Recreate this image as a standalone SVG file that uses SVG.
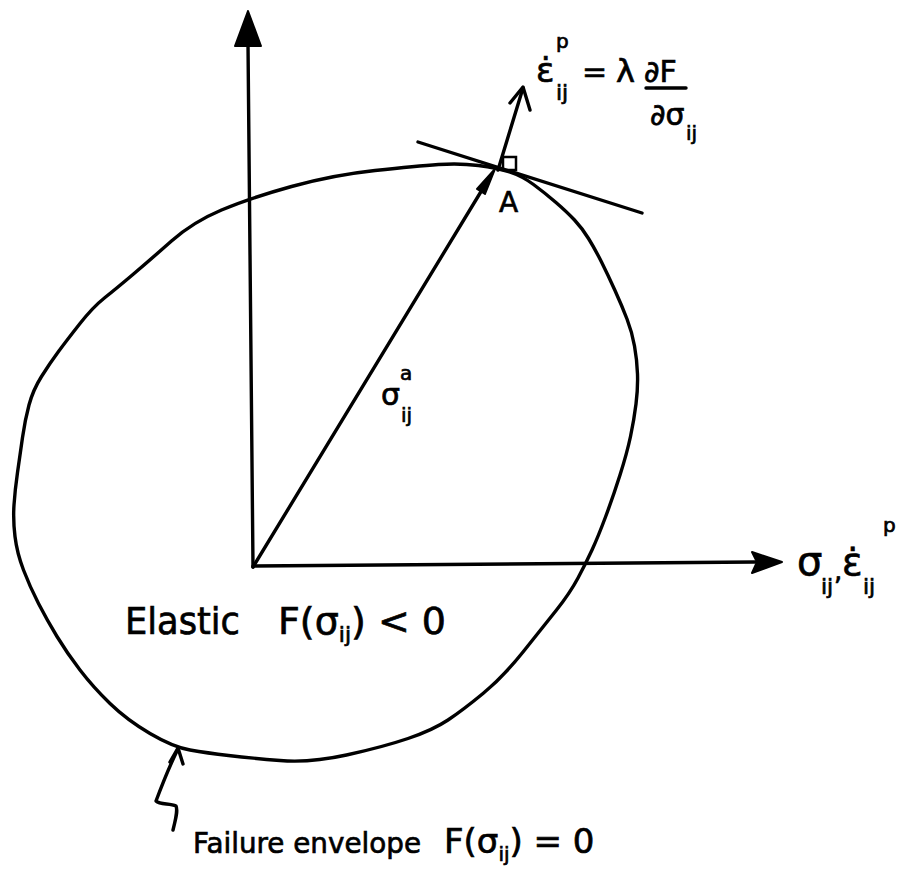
<svg xmlns="http://www.w3.org/2000/svg" width="913" height="869" viewBox="0 0 913 869">
<style>
.ln{fill:none;stroke:#000;stroke-width:3.4;stroke-linecap:round;stroke-linejoin:round}
.hd{fill:#000;stroke:#000;stroke-width:2;stroke-linejoin:round}
.t{font-family:"DejaVu Sans","Liberation Sans",sans-serif;fill:#000;stroke:#000;stroke-width:0.7}
</style>
<rect width="913" height="869" fill="#fff"/>
<g id="envelope">
<path class="ln" d="M438.5,164.5 Q460,163 478.5,165.5 Q497,168 509.5,172 Q522,176 533.5,184.5 Q545,193 556,202.5 Q567,212 574.5,220 Q582,228 588.5,238.5 Q595,249 601.5,262 Q608,275 615,290.5 Q622,306 627,319 Q632,332 634.5,346 Q637,360 637.5,374 Q638,388 636,404 Q634,420 630.5,436.5 Q627,453 620,475 Q613,497 605.5,517 Q598,537 592,550 Q586,563 578,578 Q570,593 556.5,610 Q543,627 523,652 Q503,677 483,693.5 Q463,710 448,720 Q433,730 408,738.5 Q383,747 346.5,755 Q310,763 280,760.5 Q250,758 228.5,755.5 Q207,753 190,750 Q173,747 150,733.5 Q127,720 110,703.5 Q93,687 80,670 Q67,653 57,636.5 Q47,620 38.5,603.5 Q30,587 23.5,570 Q17,553 15,536.5 Q13,520 14,505 Q15,490 17.5,472.5 Q20,455 22.5,437.5 Q25,420 29,405 Q33,390 41.5,376.5 Q50,363 58.5,351.5 Q67,340 80,323.5 Q93,307 105,297.5 Q117,288 133.5,274 Q150,260 171.5,241 Q193,222 221.5,210 Q250,198 291.5,186.5 Q333,175 375,170.5 Q417,166 438.5,164.5 Z"/>
</g>
<g id="connectors">
<line class="ln" x1="253" y1="567" x2="248" y2="44"/>
<polygon class="hd" points="248,11 235,46 261,46"/>
<line class="ln" x1="253" y1="566" x2="755" y2="562"/>
<polygon class="hd" points="782,562 752,552 757,562 752,573"/>
<line class="ln" x1="253" y1="567" x2="485" y2="185"/>
<polygon class="hd" points="495,169 477,189 485,194"/>
<line class="ln" x1="418" y1="142" x2="642" y2="213"/>
<line class="ln" x1="498" y1="170" x2="523" y2="88"/>
<polyline class="ln" points="510,103 523,87 530,110"/>
<rect x="503" y="157" width="13" height="13" fill="none" stroke="#000" stroke-width="2.5"/>
<path class="ln" d="M173,830 C176,818 178,810 176,806 C170,803 160,805 156,801 C162,785 170,765 178,749"/>
<polyline class="ln" points="170,762 178,748 183,764"/>
</g>
<g id="label-A"><text class="t" x="499" y="212" font-size="28">A</text></g>
<g id="label-top">
<text class="t" x="536" y="82" font-size="34">ε̇</text>
<text class="t" x="556" y="48" font-size="20">p</text>
<text class="t" x="556" y="100" font-size="22">ij</text>
<text class="t" x="582" y="82" font-size="30">=</text>
<text class="t" x="616" y="82" font-size="32">λ</text>
<text class="t" x="644" y="82" font-size="30">∂F</text>
<line class="ln" x1="646" y1="88" x2="686" y2="88"/>
<text class="t" x="650" y="125" font-size="30">∂σ</text>
<text class="t" x="686" y="140" font-size="20">ij</text>
</g>
<g id="label-sigma-a">
<text class="t" x="381" y="405" font-size="30">σ</text>
<text class="t" x="400" y="380" font-size="20">a</text>
<text class="t" x="401" y="422" font-size="20">ij</text>
</g>
<g id="label-axis">
<text class="t" x="797" y="575" font-size="40">σ</text>
<text class="t" x="821" y="594" font-size="22">ij</text>
<text class="t" x="834" y="580" font-size="26">,</text>
<text class="t" x="842" y="575" font-size="38">ε̇</text>
<text class="t" x="883" y="532" font-size="20">p</text>
<text class="t" x="863" y="594" font-size="22">ij</text>
</g>
<g id="label-elastic">
<text class="t" x="125" y="634" font-size="38" textLength="115" lengthAdjust="spacingAndGlyphs">Elastic</text>
<text class="t" x="278" y="634" font-size="38">F(σ<tspan font-size="22" dy="8">ij</tspan><tspan dy="-8">) &lt; 0</tspan></text>
</g>
<g id="label-failure">
<text class="t" x="193" y="853" font-size="29" textLength="228" lengthAdjust="spacingAndGlyphs">Failure envelope</text>
<text class="t" x="444" y="853" font-size="34">F(σ<tspan font-size="20" dy="8">ij</tspan><tspan dy="-8">) = 0</tspan></text>
</g>
</svg>
